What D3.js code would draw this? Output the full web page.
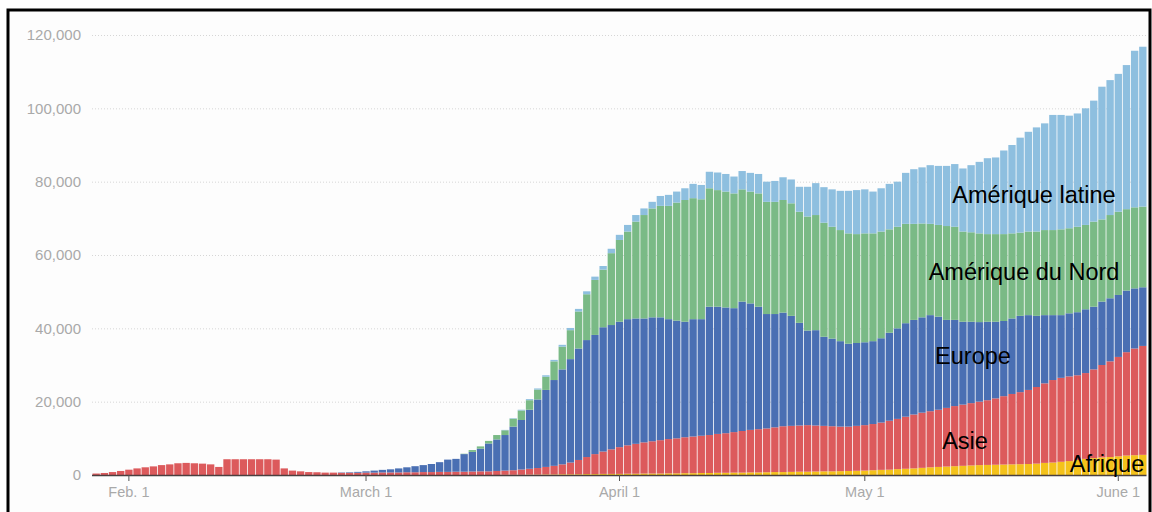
<!DOCTYPE html>
<html>
<head>
<meta charset="utf-8">
<script src="https://cdn.jsdelivr.net/npm/d3@7"></script>
<style>
  body { margin: 0; background: #fff; }
  svg { display: block; font-family: "Liberation Sans", Arial, sans-serif; }
</style>
</head>
<body>
<svg id="chart" width="1152" height="512"></svg>
<script>
// one bar per day, Jan 28 -> June 4 2020 (7-day averages, new cases)
var days = d3.timeDay.range(new Date(2020, 0, 28), new Date(2020, 5, 5));

var tickDates = [new Date(2020, 1, 1), new Date(2020, 2, 1), new Date(2020, 3, 1), new Date(2020, 4, 1), new Date(2020, 5, 1)];
var tickLabels = ["Feb. 1", "March 1", "April 1", "May 1", "June 1"];
var yTicks = [0, 20000, 40000, 60000, 80000, 100000, 120000];

var regions = ["Afrique", "Asie", "Europe", "Amérique du Nord", "Amérique latine"];
var colors = ["#f4c21b", "#dc5a5c", "#4a6fb3", "#7aba86", "#8ebfdf"];

var afrique = [
  0,0,0,0,0,0,0,0,0,0, 0,0,0,0,0,0,0,0,0,0,
  0,0,0,0,0,0,0,0,0,0, 0,0,0,0,0,0,0,0,0,0,
  0,0,0,0,0,0,0,0,0,0,
  50,50,50,100,100,150,150,200,200,200,
  250,250,300,300,300,350,350,400,400,400,
  450,450,500,500,550,550,600,600,650,650,
  700,700,750,800,800,850,900,900,950,1000,
  1000,1050,1100,1150,1200,1300,1400,1450,1600,1700,
  1800,1950,2100,2200,2300,2400,2500,2600,2700,2750,
  2800,2850,2900,2950,3000,3100,3300,3400,3600,3800,
  4100,4400,4600,4800,4900,5100,5300,5400,5500
];
var asie = [
  400,550,800,1100,1450,1800,2100,2350,2700,2900,
  3200,3300,3200,3100,2900,2200,4300,4300,4300,4300,
  4300,4300,4200,1800,1200,1000,800,750,650,650,
  600,600,600,650,650,700,700,700,750,750,
  800,800,850,850,900,900,950,1000,1000,1100,
  1150,1250,1450,1600,1800,2050,2350,2700,3200,3900,
  4650,5450,6100,6700,7300,7750,8150,8500,8800,9100,
  9350,9550,9800,10000,10150,10350,10600,10800,11050,11350,
  11600,11800,11950,12200,12500,12550,12600,12700,12550,12400,
  12300,12150,12100,12250,12400,12600,12900,13350,13700,14200,
  14700,15050,15300,15600,16000,16400,16700,17000,17300,17650,
  18100,18650,19200,19650,20200,20900,21700,22500,22900,23100,
  23100,23400,24200,25200,26100,27100,28200,29100,29700
];
var europe = [
  0,0,0,0,0,0,0,0,0,0, 0,0,0,0,0,0,0,0,0,0,
  0,0,0,0,0,0,0,0,0,0,
  100,150,250,350,550,700,850,1100,1350,1650,
  1900,2200,2650,3350,3500,4800,5350,6200,7600,8600,
  9700,11900,13500,16100,18700,21000,23400,25900,28200,30400,
  31900,32500,33900,33900,34200,34400,34200,33800,33800,33500,
  32700,32100,31500,32000,31800,35000,34700,34300,33800,35300,
  34500,33400,31200,30900,31000,30000,28000,25800,26000,24300,
  23900,23300,22600,22600,22600,22600,23000,24000,24700,25500,
  25800,26000,26200,25400,24000,23500,22600,22200,21700,21400,
  20900,20500,20600,20800,20400,19400,18600,17700,17100,17200,
  17200,17400,17100,17300,17200,16900,16800,16400,16000
];
var ameriqueNord = [
  0,0,0,0,0,0,0,0,0,0, 0,0,0,0,0,0,0,0,0,0,
  0,0,0,0,0,0,0,0,0,0, 0,0,0,0,0,0,0,0,0,0,
  0,0,0,0,0,100,500,600,700,1200,
  1300,2150,2600,2600,2700,3600,5100,6200,7900,10100,
  12500,15000,15700,19600,22300,23900,26400,28200,29700,30400,
  30900,32200,33200,33000,32700,32300,31800,31600,31300,30600,
  30500,30900,30600,30600,30700,30700,30300,31100,31400,31100,
  30500,30300,30100,29700,29700,29400,29100,28200,27700,27100,
  26200,25600,24900,25000,25600,25400,24600,24400,24200,23900,
  23900,23700,23200,22700,22800,23000,23200,23200,23400,23200,
  23300,23000,23200,22400,22700,22700,22200,22100,22000
];
var ameriqueLatine = [
  0,0,0,0,0,0,0,0,0,0, 0,0,0,0,0,0,0,0,0,0,
  0,0,0,0,0,0,0,0,0,0, 0,0,0,0,0,0,0,0,0,0,
  0,0,0,0,0,0,0,0,0,0,
  100,150,200,300,300,400,400,500,600,700,
  800,900,1000,1200,1400,1800,1800,1800,1800,2700,
  3000,3000,3200,3900,3900,4500,4800,4800,4600,5000,
  5100,5300,5500,5700,6200,6500,6800,8100,8700,9700,
  10200,10700,11600,12000,12000,11400,11800,12400,12300,13900,
  14900,15300,16000,16100,16400,17100,17200,18300,19500,20700,
  20900,22800,24100,25900,27200,28400,29100,31400,31200,30700,
  30900,31800,33000,36200,36800,37600,39300,42700,43600
];

var series = [afrique, asie, europe, ameriqueNord, ameriqueLatine];

// rows for d3.stack
var table = days.map(function(d, i) {
  var row = { date: d };
  regions.forEach(function(r, k) { row[r] = series[k][i]; });
  return row;
});

var svg = d3.select("#chart");

// frame
svg.append("rect")
  .attr("x", 8).attr("y", 10)
  .attr("width", 1142).attr("height", 520)
  .attr("fill", "#fdfdfd")
  .attr("stroke", "#000")
  .attr("stroke-width", 3);

var x = d3.scaleBand()
  .domain(days)
  .range([92.5, 1146.5])
  .paddingInner(0.1)
  .paddingOuter(0);

var y = d3.scaleLinear()
  .domain([0, 120000])
  .range([475, 35]);

// gridlines + y labels
var yAxis = svg.append("g")
  .attr("transform", "translate(89,0)")
  .call(d3.axisLeft(y).tickValues(yTicks).tickSize(0).tickPadding(8)
        .tickFormat(d3.format(",")));
yAxis.select(".domain").remove();
yAxis.selectAll("text")
  .attr("fill", "#a9a9a9")
  .style("font-size", "15px")
  .style("font-family", "'Liberation Sans', Arial, sans-serif");

svg.append("g").selectAll("line")
  .data(yTicks.filter(function(d) { return d > 0; }))
  .enter().append("line")
    .attr("x1", 92).attr("x2", 1146)
    .attr("y1", function(d) { return y(d) + 0.5; })
    .attr("y2", function(d) { return y(d) + 0.5; })
    .attr("stroke", "#d6d6d6")
    .attr("stroke-dasharray", "1,2");

// stacked bars
var stacked = d3.stack().keys(regions)(table);

svg.append("g").selectAll("g")
  .data(stacked)
  .enter().append("g")
    .attr("fill", function(d, k) { return colors[k]; })
  .selectAll("rect")
  .data(function(d) { return d; })
  .enter().append("rect")
    .attr("x", function(d) { return x(d.data.date); })
    .attr("width", x.bandwidth())
    .attr("y", function(d) { return y(d[1]); })
    .attr("height", function(d) { return Math.max(0, y(d[0]) - y(d[1])); });

// x axis
var xAxis = svg.append("g")
  .attr("transform", "translate(0," + y(0) + ")")
  .call(d3.axisBottom(x).tickValues(tickDates).tickSize(6).tickPadding(6)
        .tickFormat(function(d, i) { return tickLabels[i]; }));
xAxis.select(".domain")
  .attr("stroke", "#4a4040")
  .attr("stroke-width", 1.5)
  .attr("d", "M92,0.5H1146.5");
xAxis.selectAll(".tick line").attr("stroke", "#555");
xAxis.selectAll("text")
  .attr("fill", "#a9a9a9")
  .style("font-size", "14.5px")
  .style("font-family", "'Liberation Sans', Arial, sans-serif");

// region labels
var labelPos = [
  { text: "Amérique latine", x: 1034, y: 203 },
  { text: "Amérique du Nord", x: 1024, y: 280 },
  { text: "Europe", x: 973, y: 364 },
  { text: "Asie", x: 965, y: 449 },
  { text: "Afrique", x: 1107, y: 472 }
];
svg.append("g").selectAll("text")
  .data(labelPos)
  .enter().append("text")
    .attr("x", function(d) { return d.x; })
    .attr("y", function(d) { return d.y; })
    .attr("text-anchor", "middle")
    .attr("fill", "#000")
    .style("font-size", "23.5px")
    .text(function(d) { return d.text; });
</script>
</body>
</html>
